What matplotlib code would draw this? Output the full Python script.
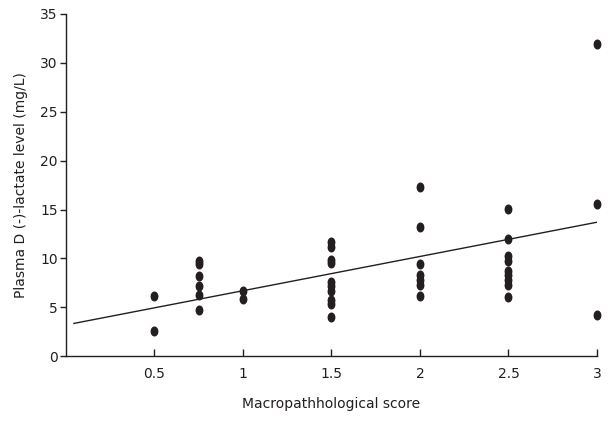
import matplotlib.pyplot as plt
from matplotlib.path import Path
from matplotlib.transforms import Affine2D

# Macropathological score groups and plasma D(-)-lactate readings (mg/L)
score_05 = [6.2, 2.6]
score_075 = [9.7, 9.4, 8.2, 7.2, 6.3, 4.7]
score_10 = [6.65, 5.8]
score_15 = [11.7, 11.2, 9.8, 9.5, 7.6, 7.2, 6.7, 5.7, 5.3, 4.0]
score_20 = [17.3, 13.2, 9.4, 8.3, 7.8, 7.3, 6.2]
score_25 = [15.1, 12.0, 10.2, 9.7, 8.7, 8.3, 7.8, 7.3, 6.1]
score_30 = [31.9, 15.6, 4.2]

groups = {0.5: score_05, 0.75: score_075, 1.0: score_10, 1.5: score_15,
          2.0: score_20, 2.5: score_25, 3.0: score_30}

# regression line end points
fit_x = [0.045, 3.0]
fit_y = [3.35, 13.7]

xticks = [0.5, 1, 1.5, 2, 2.5, 3]
xticklabels = ["0.5", "1", "1.5", "2", "2.5", "3"]
yticks = [0, 5, 10, 15, 20, 25, 30, 35]

ink = "#231f20"
ellipse = Path.unit_circle().transformed(Affine2D().scale(0.75, 1.0))

fig = plt.figure(figsize=(6.11, 4.24), dpi=100)
ax = fig.add_axes([0.108, 0.160, 0.869, 0.807])

for x, ys in groups.items():
    ax.plot([x] * len(ys), ys, linestyle="none", marker=ellipse,
            markersize=6.2, color=ink, clip_on=False)

ax.plot(fit_x, fit_y, color=ink, linewidth=1.0)

ax.set_xlim(0, 3)
ax.set_ylim(0, 35)
ax.set_xticks(xticks)
ax.set_xticklabels(xticklabels)
ax.set_yticks(yticks)

for side in ["top", "right"]:
    ax.spines[side].set_visible(False)
for side in ["left", "bottom"]:
    ax.spines[side].set_linewidth(1.0)
    ax.spines[side].set_color(ink)

ax.tick_params(axis="x", direction="in", length=5, width=1, colors=ink,
               labelsize=10, pad=8)
ax.tick_params(axis="y", direction="out", length=4, width=1, colors=ink,
               labelsize=10, pad=2)

ax.set_xlabel("Macropathhological score", fontsize=10, color=ink, labelpad=11)
ax.set_ylabel("Plasma D (-)-lactate level (mg/L)", fontsize=10, color=ink,
              labelpad=9)

fig.savefig("out.png", dpi=100)
